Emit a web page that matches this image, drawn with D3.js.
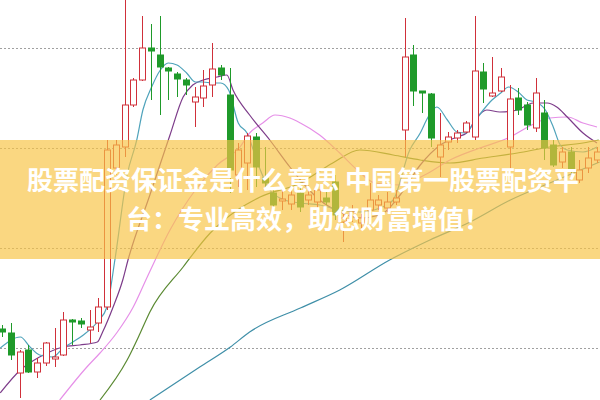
<!DOCTYPE html>
<html><head><meta charset="utf-8">
<script src="https://cdn.jsdelivr.net/npm/d3@7"></script>
<style>html,body{margin:0;padding:0;background:#fff;overflow:hidden}svg{display:block}</style>
</head><body>
<script>
// ---- data ----
const openP  = [7.19,7.15,6.75,6.98,6.76,6.85,6.89,6.93,7.28,7.27,7.18,7.25,7.41,8.80,9.01,9.43,9.68,10.00,9.93,9.80,9.74,9.68,9.46,9.50,9.63,9.80,9.53,8.73,8.85,9.11,8.70,8.55,8.47,8.44,8.55,8.48,8.46,8.50,8.66,8.26,8.32,8.25,8.38,8.43,8.40,8.46,9.18,9.93,9.57,9.54,8.91,9.06,9.10,9.16,9.11,9.76,9.52,9.57,9.01,9.50,9.43,9.20,9.35,9.03,8.86,8.96,8.68,8.80,8.88];
const highP  = [7.23,7.25,6.98,7.03,6.90,7.06,7.20,7.36,7.29,7.30,7.38,7.50,9.08,9.08,10.50,9.70,10.32,10.24,10.32,9.81,9.76,9.70,9.61,9.78,10.05,9.83,9.80,9.05,9.15,9.15,9.01,8.61,8.58,8.61,8.63,8.63,8.63,8.56,8.73,8.35,8.43,8.34,8.65,8.53,8.56,8.58,10.30,10.03,9.57,9.55,9.35,9.16,9.18,9.27,10.32,9.85,9.91,9.80,9.63,9.60,9.46,9.70,9.48,9.08,9.01,9.01,8.88,9.01,9.01];
const lowP   = [7.11,6.88,6.50,6.75,6.70,6.82,6.81,6.92,7.03,7.20,7.05,7.16,7.38,8.73,8.91,9.41,9.67,9.48,9.33,9.48,9.51,9.53,9.21,9.41,9.51,9.68,8.55,8.61,8.58,8.61,8.58,8.40,8.38,8.38,8.36,8.43,8.36,8.43,8.28,8.06,8.26,8.20,8.30,8.38,8.36,8.43,8.91,9.42,9.35,9.01,8.71,8.98,9.05,9.15,9.08,9.45,9.51,9.56,8.80,9.33,9.18,9.16,8.88,8.81,8.80,8.75,8.65,8.75,8.85];
const closeP = [7.16,6.93,6.96,6.76,6.85,7.05,6.91,7.28,7.26,7.24,7.21,7.41,8.98,9.03,9.43,9.68,10.00,9.97,9.81,9.77,9.69,9.63,9.51,9.62,9.79,9.73,8.78,8.98,9.12,8.81,8.65,8.43,8.49,8.53,8.41,8.53,8.58,8.46,8.33,8.30,8.36,8.30,8.48,8.48,8.46,8.50,9.91,9.57,9.55,9.10,9.03,9.11,9.15,9.25,9.77,9.59,9.55,9.71,9.49,9.38,9.23,9.55,9.00,8.83,8.96,8.78,8.78,8.90,8.96];

// moving-average lines as [bar index, price] points
const ma5 = [[-0.2,7.00],[2.1,7.11],[3.2,7.01],[4.3,6.93],[5.8,6.91],[7.0,7.00],[8.1,7.06],[9.3,7.13],[10.9,7.26],[12.0,7.41],[12.9,7.88],[14.3,8.73],[15.4,9.08],[16.1,9.38],[17.1,9.61],[18.1,9.78],[19.0,9.85],[20.0,9.83],[21.1,9.75],[22.1,9.66],[23.0,9.66],[24.0,9.65],[25.0,9.65],[25.9,9.58],[27.0,9.25],[28.0,9.15],[29.3,8.83],[30.6,8.58],[32.3,8.48],[34.1,8.45],[36.3,8.43],[38.6,8.38],[40.9,8.36],[43.2,8.40],[44.7,8.48],[46.6,8.98],[47.8,9.15],[48.7,9.31],[49.7,9.41],[50.9,9.28],[52.0,9.16],[53.0,9.15],[53.9,9.25],[55.0,9.38],[56.0,9.48],[57.0,9.55],[57.9,9.61],[59.0,9.56],[60.0,9.48],[61.0,9.46],[62.1,9.38],[63.0,9.21],[63.8,9.03],[64.6,8.98],[66.4,8.96],[68.0,9.01]];
const ma10 = [[-0.2,6.55],[2.1,6.78],[4.3,6.91],[7.0,7.01],[8.9,7.03],[10.9,7.06],[11.5,7.16],[12.7,7.41],[13.8,7.68],[14.4,7.88],[16.9,8.53],[19.2,9.13],[20.7,9.51],[21.8,9.63],[23.0,9.68],[24.6,9.71],[25.7,9.73],[26.4,9.58],[28.3,9.33],[30.6,9.08],[32.9,8.81],[34.1,8.68],[36.3,8.48],[38.6,8.36],[40.9,8.30],[43.2,8.33],[45.5,8.53],[47.8,8.83],[50.1,9.03],[52.0,9.11],[53.1,9.15],[54.3,9.31],[55.4,9.38],[56.9,9.36],[58.9,9.38],[60.7,9.45],[62.3,9.45],[63.4,9.41],[64.6,9.31],[66.4,9.15],[68.0,9.05]];
const ma20 = [[6.6,6.48],[9.7,6.81],[11.2,6.95],[13.1,7.15],[15.0,7.41],[16.6,7.71],[19.2,8.18],[22.1,8.58],[24.6,8.83],[27.2,9.01],[28.3,9.15],[29.8,9.25],[31.2,9.33],[32.9,9.30],[34.1,9.25],[36.3,9.13],[38.6,8.95],[40.6,8.78],[42.6,8.65],[45.5,8.63],[48.3,8.73],[51.2,8.88],[54.6,9.00],[58.1,9.11],[60.3,9.22],[62.6,9.30],[64.6,9.31],[66.4,9.25],[68.0,9.21]];
const ma30 = [[11.2,6.48],[14.3,6.88],[15.8,7.15],[16.9,7.36],[20.7,7.81],[23.8,8.15],[26.9,8.38],[29.5,8.51],[34.1,8.65],[37.8,8.85],[40.9,8.98],[44.7,8.93],[47.8,8.88],[51.2,8.85],[55.0,8.90],[58.9,8.95],[62.6,9.01],[66.4,9.05],[68.2,9.08]];
const ma60 = [[16.9,6.48],[22.6,6.81],[26.1,7.01],[28.3,7.16],[34.1,7.40],[38.6,7.58],[44.3,7.88],[48.9,8.08],[53.5,8.26],[58.1,8.48],[62.6,8.65],[68.3,8.86]];

const gridPrices = [7, 8, 9, 10];
const line1 = "股票配资保证金是什么意思 中国第一股票配资平";
const line2 = "台：专业高效，助您财富增值！";

// ---- drawing ----
const W = 600, H = 400;
const svg = d3.select("body").append("svg").attr("width", W).attr("height", H);
const x = d3.scaleLinear().domain([0, 68]).range([2, 597]);
const y = d3.scaleLinear().domain([6.48, 10.48]).range([400, 0]);

svg.append("g").selectAll("line").data(gridPrices).join("line")
  .attr("x1", 0).attr("x2", W)
  .attr("y1", d => Math.round(y(d)) + 0.5).attr("y2", d => Math.round(y(d)) + 0.5)
  .attr("stroke", "#a0a0a0").attr("stroke-width", 1).attr("stroke-dasharray", "2,2");

const lineGen = d3.line().x(d => x(d[0])).y(d => y(d[1])).curve(d3.curveMonotoneX);
const mas = [
  {d: ma60, c: "#3f8fa8"},
  {d: ma30, c: "#5b8a33"},
  {d: ma20, c: "#e690e8"},
  {d: ma10, c: "#7d3c8a"},
  {d: ma5,  c: "#4fa3bb"}
];
svg.append("g").selectAll("path").data(mas).join("path")
  .attr("d", m => lineGen(m.d)).attr("fill", "none")
  .attr("stroke", m => m.c).attr("stroke-width", 1.2);

const RED = "#d0303a", GREEN = "#1f9a2a";
const bars = d3.range(openP.length).map(i => ({i, o: openP[i], h: highP[i], l: lowP[i], c: closeP[i]}));
const bw = 6;
const g = svg.append("g");
const cg = g.selectAll("g").data(bars).join("g");
cg.append("line")
  .attr("x1", d => Math.round(x(d.i)) + 0.5).attr("x2", d => Math.round(x(d.i)) + 0.5)
  .attr("y1", d => y(d.h)).attr("y2", d => y(d.l))
  .attr("stroke", d => d.c >= d.o ? RED : GREEN).attr("stroke-width", 1);
cg.append("rect")
  .attr("x", d => Math.round(x(d.i)) - bw / 2 + 0.5)
  .attr("y", d => y(Math.max(d.o, d.c)))
  .attr("width", bw)
  .attr("height", d => Math.max(1, Math.abs(y(d.o) - y(d.c))))
  .attr("fill", d => d.c >= d.o ? "#fff" : GREEN)
  .attr("stroke", d => d.c >= d.o ? RED : GREEN).attr("stroke-width", 1);

// banner overlay
svg.append("rect").attr("x", 0).attr("y", 140).attr("width", W).attr("height", 119)
  .attr("fill", "rgb(248,196,70)").attr("fill-opacity", 0.68);

const t = svg.append("g").attr("font-family", "'Noto Sans CJK SC', sans-serif")
  .attr("font-weight", "bold").attr("font-size", 26).attr("fill", "#fff")
  .attr("text-anchor", "middle");
t.append("text").attr("x", 303).attr("y", 190).attr("xml:space", "preserve").text(line1);
t.append("text").attr("x", 308).attr("y", 229).text(line2);
</script>
</body></html>
